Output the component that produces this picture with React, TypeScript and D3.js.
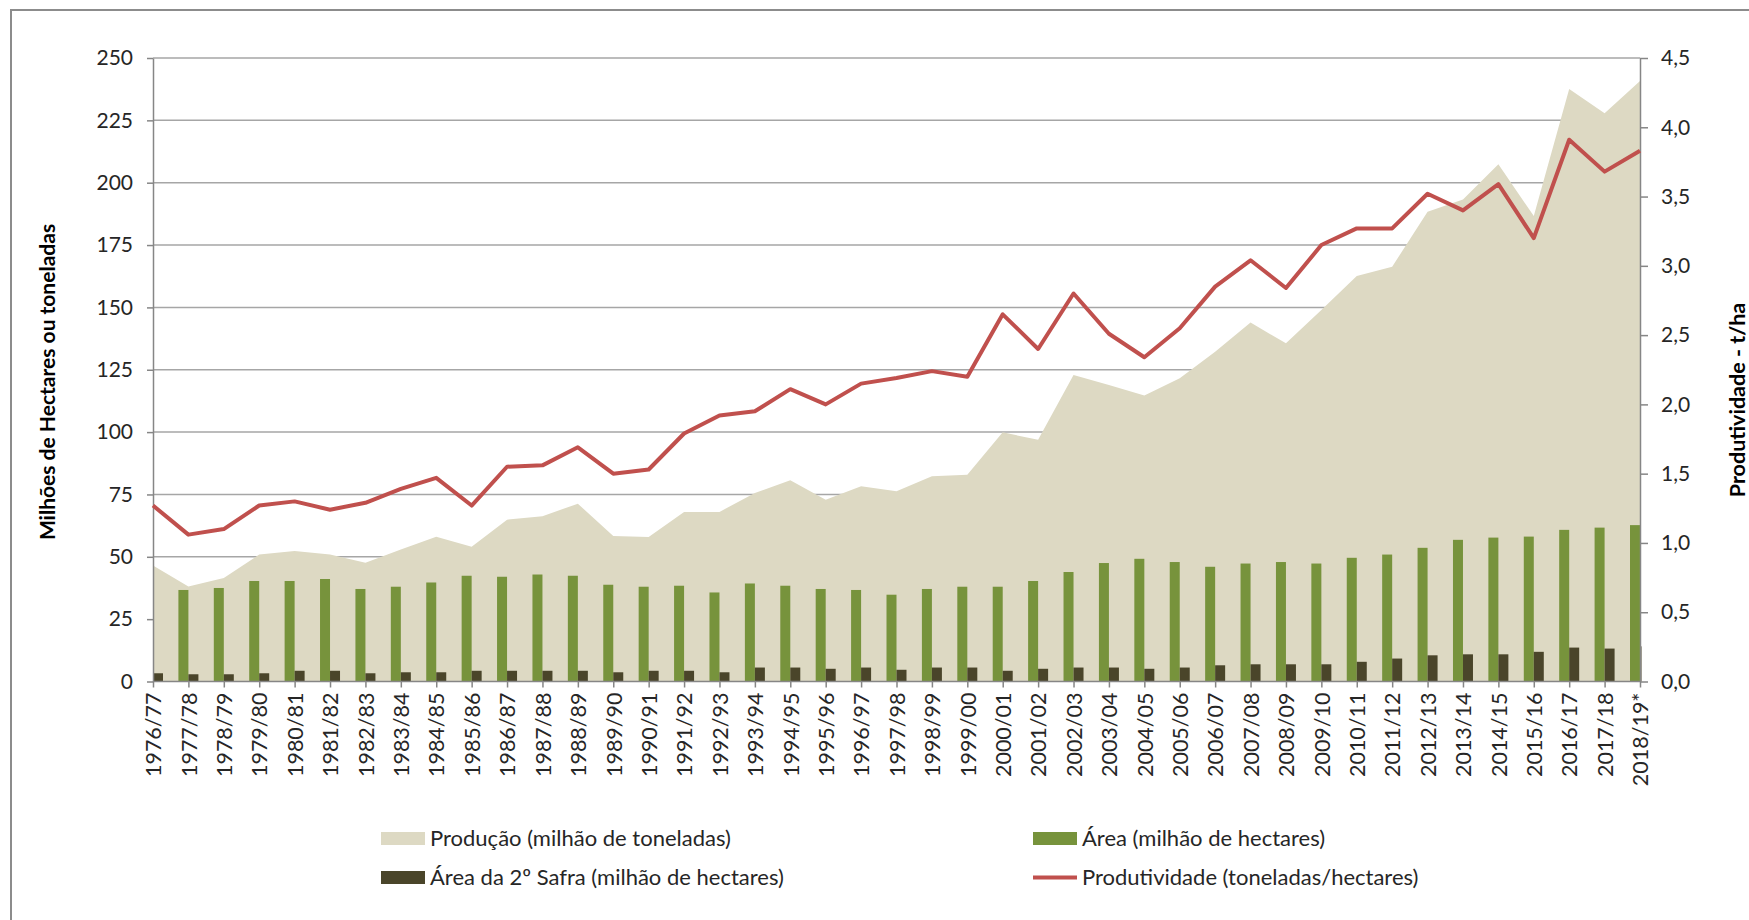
import React, { useRef, useEffect } from "react";
import * as d3 from "d3";

const categories = [
  "1976/77", "1977/78", "1978/79", "1979/80", "1980/81", "1981/82", "1982/83", "1983/84",
  "1984/85", "1985/86", "1986/87", "1987/88", "1988/89", "1989/90", "1990/91", "1991/92",
  "1992/93", "1993/94", "1994/95", "1995/96", "1996/97", "1997/98", "1998/99", "1999/00",
  "2000/01", "2001/02", "2002/03", "2003/04", "2004/05", "2005/06", "2006/07", "2007/08",
  "2008/09", "2009/10", "2010/11", "2011/12", "2012/13", "2013/14", "2014/15", "2015/16",
  "2016/17", "2017/18", "2018/19*",
];

// milhão de toneladas
const producao = [
  46.5, 38.1, 41.5, 50.9, 52.3, 50.9, 47.6, 52.9, 58.0, 54.0, 64.9, 66.3, 71.3,
  58.3, 57.9, 68.0, 68.0, 75.6, 80.7, 72.9, 78.3, 76.3, 82.3, 82.9,
  99.9, 96.9, 122.9, 118.9, 114.7, 121.6, 132.2, 143.9, 135.6, 149.0, 162.6, 166.3,
  188.4, 193.3, 207.4, 186.6, 237.6, 227.8, 240.8,
];

// milhão de hectares
const area = [
  37.0, 36.7, 37.5, 40.3, 40.3, 41.1, 37.1, 38.0, 39.7, 42.4, 42.0, 42.9, 42.4,
  38.8, 38.0, 38.4, 35.7, 39.3, 38.4, 37.1, 36.7, 34.8, 37.1, 38.0,
  38.0, 40.3, 43.9, 47.5, 49.2, 47.9, 46.0, 47.3, 47.9, 47.3, 49.6, 50.9,
  53.6, 56.8, 57.7, 58.1, 60.8, 61.7, 62.7,
];

// milhão de hectares (2ª safra)
const segundaSafra = [
  3.3, 2.9, 2.9, 3.3, 4.3, 4.3, 3.3, 3.7, 3.7, 4.3, 4.3, 4.3, 4.3,
  3.7, 4.3, 4.3, 3.7, 5.6, 5.6, 5.1, 5.6, 4.7, 5.6, 5.6, 4.3, 5.1, 5.6, 5.6, 5.1,
  5.6, 6.5, 6.9, 6.9, 6.9, 7.9, 9.2, 10.5, 10.9, 10.9, 11.9, 13.6, 13.2, 14.1,
];

// toneladas/hectare
const produtividade = [
  1.27, 1.06, 1.10, 1.27, 1.30, 1.24, 1.29, 1.39, 1.47, 1.27, 1.55, 1.56, 1.69,
  1.50, 1.53, 1.79, 1.92, 1.95, 2.11, 2.00, 2.15, 2.19, 2.24, 2.20,
  2.65, 2.40, 2.80, 2.51, 2.34, 2.55, 2.85, 3.04, 2.84, 3.15, 3.27, 3.27,
  3.52, 3.40, 3.59, 3.20, 3.91, 3.68, 3.83,
];

const leftTicks = [0, 25, 50, 75, 100, 125, 150, 175, 200, 225, 250];
const rightTicks = [0, 0.5, 1, 1.5, 2, 2.5, 3, 3.5, 4, 4.5];

const legendItems = [
  { label: "Produção (milhão de toneladas)", color: "#DDD9C3", type: "rect", col: 0, row: 0 },
  { label: "Área (milhão de hectares)", color: "#77933C", type: "rect", col: 1, row: 0 },
  { label: "Área da 2º Safra (milhão de hectares)", color: "#4A452A", type: "rect", col: 0, row: 1 },
  { label: "Produtividade (toneladas/hectares)", color: "#C0504D", type: "line", col: 1, row: 1 },
];

const FONT = "Lato, 'Open Sans', sans-serif";

const App = () => {
  const svgRef = useRef(null);

  useEffect(() => {
    const width = 1749;
    const height = 920;
    const margin = { top: 58, right: 109, bottom: 238.5, left: 153 };
    const x0 = margin.left;
    const x1 = width - margin.right;
    const yBottom = height - margin.bottom;

    const svg = d3.select(svgRef.current);
    svg.selectAll("*").remove();

    // outer frame (cropped at right/bottom)
    svg.append("rect")
      .attr("x", 11)
      .attr("y", 10)
      .attr("width", 1800)
      .attr("height", 1000)
      .attr("fill", "white")
      .attr("stroke", "#8c8c8c")
      .attr("stroke-width", 2);

    const xScale = d3.scalePoint().domain(categories).range([x0, x1]);
    const yLeft = d3.scaleLinear().domain([0, 250]).range([yBottom, margin.top]);
    const yRight = d3.scaleLinear().domain([0, 4.5]).range([yBottom, margin.top]);

    svg.append("defs")
      .append("clipPath")
      .attr("id", "plot-clip")
      .append("rect")
      .attr("x", x0)
      .attr("y", 0)
      .attr("width", x1 - x0 + 1.5)
      .attr("height", height);

    // gridlines
    svg.append("g")
      .selectAll("line")
      .data(leftTicks.filter(d => d > 0))
      .enter()
      .append("line")
      .attr("x1", x0)
      .attr("x2", x1)
      .attr("y1", d => yLeft(d))
      .attr("y2", d => yLeft(d))
      .attr("stroke", "#a6a6a6")
      .attr("stroke-width", 1.5);

    const plot = svg.append("g").attr("clip-path", "url(#plot-clip)");

    // production area
    const areaGen = d3.area()
      .x((d, i) => xScale(categories[i]))
      .y0(yLeft(0))
      .y1(d => yLeft(d));

    plot.append("path")
      .datum(producao)
      .attr("fill", "#DDD9C3")
      .attr("d", areaGen);

    const barW = 10;

    plot.selectAll(".bar-area")
      .data(area)
      .enter()
      .append("rect")
      .attr("x", (d, i) => xScale(categories[i]) - barW)
      .attr("y", d => yLeft(d))
      .attr("width", barW)
      .attr("height", d => yLeft(0) - yLeft(d))
      .attr("fill", "#77933C");

    plot.selectAll(".bar-safra")
      .data(segundaSafra)
      .enter()
      .append("rect")
      .attr("x", (d, i) => xScale(categories[i]))
      .attr("y", d => yLeft(d))
      .attr("width", barW)
      .attr("height", d => yLeft(0) - yLeft(d))
      .attr("fill", "#4A452A");

    // axes
    const styleAxis = (g) => {
      g.select(".domain").attr("stroke", "#868686").attr("stroke-width", 1.5);
      g.selectAll(".tick line").attr("stroke", "#868686").attr("stroke-width", 1.5);
      g.selectAll(".tick text")
        .attr("fill", "#262626")
        .style("font-family", FONT)
        .style("font-size", "21px");
    };

    svg.append("g")
      .attr("transform", `translate(${x0},0)`)
      .call(d3.axisLeft(yLeft).tickValues(leftTicks).tickSize(6).tickSizeOuter(0).tickPadding(14))
      .call(styleAxis);

    svg.append("g")
      .attr("transform", `translate(${x1},0)`)
      .call(
        d3.axisRight(yRight)
          .tickValues(rightTicks)
          .tickSize(8)
          .tickSizeOuter(0)
          .tickPadding(13)
          .tickFormat(d => d3.format(".1f")(d).replace(".", ","))
      )
      .call(styleAxis);

    const xAxis = svg.append("g")
      .attr("transform", `translate(0,${yBottom})`)
      .call(d3.axisBottom(xScale).tickSize(6).tickSizeOuter(0))
      .call(styleAxis);

    xAxis.select(".domain").attr("d", `M${x0},0H${x1}`);

    xAxis.selectAll(".tick text")
      .style("font-size", "21.5px")
      .attr("transform", "rotate(-90)")
      .attr("x", -11)
      .attr("y", 0)
      .attr("dy", "0.36em")
      .style("text-anchor", "end");

    // productivity line
    const lineGen = d3.line()
      .x((d, i) => xScale(categories[i]))
      .y(d => yRight(d));

    svg.append("path")
      .datum(produtividade)
      .attr("fill", "none")
      .attr("stroke", "#C0504D")
      .attr("stroke-width", 4)
      .attr("stroke-linejoin", "round")
      .attr("d", lineGen);

    // axis titles
    svg.append("text")
      .attr("transform", `translate(48,382) rotate(-90)`)
      .attr("text-anchor", "middle")
      .attr("dy", "0.35em")
      .style("font-family", FONT)
      .style("font-size", "21px")
      .style("font-weight", "bold")
      .attr("fill", "#000")
      .text("Milhões de Hectares ou toneladas");

    svg.append("text")
      .attr("transform", `translate(1737,400) rotate(-90)`)
      .attr("text-anchor", "middle")
      .attr("dy", "0.35em")
      .style("font-family", FONT)
      .style("font-size", "21.5px")
      .style("font-weight", "bold")
      .attr("fill", "#000")
      .text("Produtividade - t/ha");

    // Legend
    const legendX = [381, 1033];
    const legendY = [838.5, 877.5];

    const legend = svg.selectAll(".legend")
      .data(legendItems)
      .enter()
      .append("g")
      .attr("class", "legend")
      .attr("transform", d => `translate(${legendX[d.col]},${legendY[d.row]})`);

    legend.filter(d => d.type === "rect")
      .append("rect")
      .attr("x", 0)
      .attr("y", -6.5)
      .attr("width", 44)
      .attr("height", 13)
      .attr("fill", d => d.color);

    legend.filter(d => d.type === "line")
      .append("line")
      .attr("x1", 0)
      .attr("x2", 44)
      .attr("stroke", d => d.color)
      .attr("stroke-width", 4);

    legend.append("text")
      .attr("x", 49)
      .attr("dy", "0.35em")
      .style("font-family", FONT)
      .style("font-size", "22px")
      .attr("fill", "#262626")
      .text(d => d.label);
  }, []);

  return (
    <div style={{ position: "absolute", left: 0, top: 0, width: 1749, height: 920, background: "white" }}>
      <svg ref={svgRef} width={1749} height={920}></svg>
    </div>
  );
};

export default App;
